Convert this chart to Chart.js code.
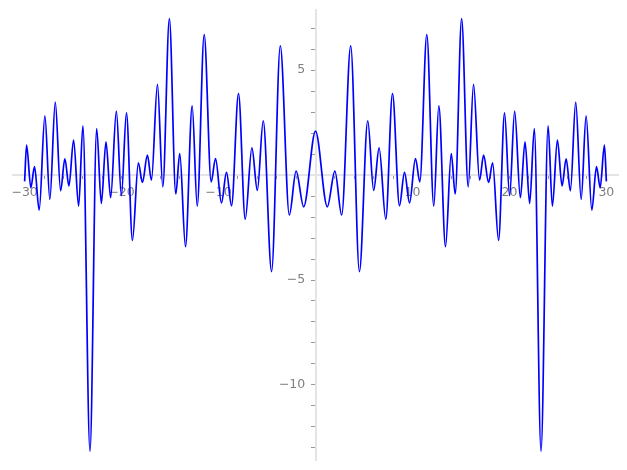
<!DOCTYPE html>
<html>
<head>
<meta charset="utf-8">
<script src="https://cdn.jsdelivr.net/npm/chart.js@4/dist/chart.umd.min.js"></script>
<style>
  html, body { margin: 0; padding: 0; background: #fff; }
  #wrap { width: 627px; height: 470px; }
</style>
</head>
<body>
<div id="wrap"><canvas id="chart1" width="627" height="470"></canvas></div>
<script>
// peaks and troughs (x, y)
const xs = [
  -30, -29.8, -29.36, -28.98, -28.5, -27.91, -27.4, -26.84, -26.29, -25.85, -25.43, -24.95, -24.43, -23.99,
  -23.26, -22.57, -22.09, -21.61, -21.13, -20.54, -20.02, -19.5, -18.88, -18.27, -17.85, -17.34, -16.92,
  -16.3, -15.75, -15.07, -14.41, -14.0, -13.41, -12.72, -12.2, -11.48, -10.76, -10.31, -9.7, -9.18, -8.66,
  -7.94, -7.25, -6.56, -6.0, -5.39, -4.53, -3.63, -2.7, -2.0, -1.22,
  0,
  1.22, 2.0, 2.7, 3.63, 4.53, 5.39, 6.0, 6.56, 7.25, 7.94, 8.66, 9.18, 9.7, 10.31, 10.76, 11.48, 12.2,
  12.72, 13.41, 14.0, 14.41, 15.07, 15.75, 16.3, 16.92, 17.34, 17.85, 18.27, 18.88, 19.5, 20.02, 20.54,
  21.13, 21.61, 22.09, 22.57, 23.26, 23.99, 24.43, 24.95, 25.43, 25.85, 26.29, 26.84, 27.4, 27.91, 28.5,
  28.98, 29.36, 29.8, 30
];
const ys = [
  -0.3, 1.43, -0.6, 0.4, -1.67, 2.82, -1.16, 3.48, -0.75, 0.78, -0.52, 1.67, -1.48, 2.35,
  -13.17, 2.22, -1.35, 1.59, -1.08, 3.05, -0.98, 2.97, -3.11, 0.59, -0.35, 0.95, -0.24,
  4.33, -0.56, 7.46, -0.9, 1.02, -3.41, 3.3, -1.48, 6.7, -0.32, 0.79, -1.33, 0.13, -1.46,
  3.89, -2.1, 1.3, -0.73, 2.59, -4.6, 6.16, -1.9, 0.19, -1.51,
  2.1,
  -1.51, 0.19, -1.9, 6.16, -4.6, 2.59, -0.73, 1.3, -2.1, 3.89, -1.46, 0.13, -1.33, 0.79, -0.32, 6.7, -1.48,
  3.3, -3.41, 1.02, -0.9, 7.46, -0.56, 4.33, -0.24, 0.95, -0.35, 0.59, -3.11, 2.97, -0.98, 3.05,
  -1.08, 1.59, -1.35, 2.22, -13.17, 2.35, -1.48, 1.67, -0.52, 0.78, -0.75, 3.48, -1.16, 2.82, -1.67,
  0.4, -0.6, 1.43, -0.3
];
const xLabels = [-30, -20, -10, 10, 20, 30];
const yLabels = [-10, -5, 5];

const pts = xs.map((x, i) => ({ x: x, y: ys[i] }));
const fmt = v => (v < 0 ? '\u2212' + Math.abs(v) : String(v));

const tickFont = { family: 'DejaVu Sans', size: 12.5 };

new Chart(document.getElementById('chart1'), {
  type: 'line',
  data: {
    datasets: [{
      data: pts,
      borderColor: '#0000ff',
      borderWidth: 1.7,
      pointRadius: 0,
      fill: false,
      cubicInterpolationMode: 'monotone'
    }]
  },
  options: {
    responsive: false,
    animation: false,
    layout: { padding: { left: 13, right: 9, top: 10, bottom: 10 } },
    plugins: { legend: { display: false }, tooltip: { enabled: false } },
    scales: {
      x: {
        type: 'linear',
        position: { y: 0 },
        min: -31.2,
        max: 31.2,
        // axes sit inside the plot, so they take no room of their own
        afterFit: s => { s.height = 0; s.paddingLeft = 0; s.paddingRight = 0; },
        border: { display: true, color: '#e4e4e4', width: 2 },
        grid: { drawOnChartArea: false, drawTicks: true, tickLength: 3, color: '#999' },
        ticks: {
          stepSize: 2,
          includeBounds: false,
          autoSkip: false,
          maxRotation: 0,
          padding: 7,
          color: '#808080',
          font: tickFont,
          callback: v => (xLabels.includes(v) ? fmt(v) : '')
        }
      },
      y: {
        type: 'linear',
        position: { x: 0 },
        min: -13.58,
        max: 7.87,
        afterFit: s => { s.width = 0; s.paddingTop = 0; s.paddingBottom = 0; },
        border: { display: true, color: '#e4e4e4', width: 2 },
        grid: { drawOnChartArea: false, drawTicks: true, tickLength: 4, color: '#999' },
        ticks: {
          stepSize: 1,
          includeBounds: false,
          autoSkip: false,
          padding: 7,
          color: '#808080',
          font: tickFont,
          // trailing space keeps the label clear of the tick mark
          callback: v => (yLabels.includes(v) ? fmt(v) + '\u2002 ' : '')
        }
      }
    }
  }
});
</script>
</body>
</html>
